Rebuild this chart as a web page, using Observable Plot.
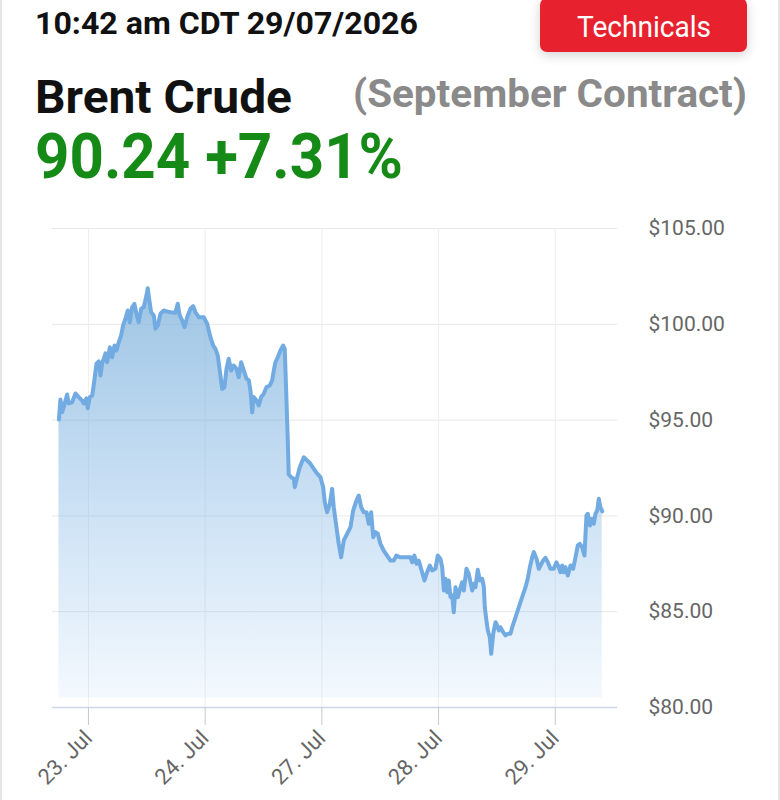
<!DOCTYPE html>
<html>
<head>
<meta charset="utf-8">
<script src="https://cdn.jsdelivr.net/npm/d3@7"></script>
<script src="https://cdn.jsdelivr.net/npm/@observablehq/plot@0.6"></script>
<style>
  html, body { margin: 0; padding: 0; background: #fff; }
  body { width: 780px; height: 800px; position: relative; overflow: hidden; font-family: Roboto, "Noto Sans", sans-serif; }
  .frame { position: absolute; left: 0; top: 0; width: 776px; height: 800px; border-left: 2px solid #e6e6e6; border-right: 2px solid #e6e6e6; pointer-events: none; }
  .t { position: absolute; white-space: nowrap; line-height: 1; transform-origin: 0 0; }
  #ts { left: 35px; top: 7px; font-size: 32px; font-weight: 700; color: #111; }
  #btn { position: absolute; left: 540px; top: -2px; width: 207px; height: 54px; background: #e8212e; border-radius: 7px; box-shadow: 0 3px 12px rgba(0,0,0,0.18); }
  #btnText { left: 577px; top: 12px; font-size: 30px; font-weight: 400; color: #fff; }
  #name { left: 35px; top: 74px; font-size: 46px; font-weight: 700; color: #111; }
  #contract { left: 353px; top: 75px; font-size: 38px; font-weight: 700; color: #8a8a8a; }
  #price { left: 35px; top: 125px; font-size: 63px; font-weight: 700; color: #168a16; }
  #chart { position: absolute; left: 0; top: 210px; }
</style>
</head>
<body>
<div id="btn"></div>
<div class="t" id="ts" data-w="383">10:42 am CDT 29/07/2026</div>
<div class="t" id="btnText" data-w="134">Technicals</div>
<div class="t" id="name" data-w="257">Brent Crude</div>
<div class="t" id="contract" data-w="394">(September Contract)</div>
<div class="t" id="price" data-w="368">90.24 +7.31%</div>
<div id="chart"></div>
<div class="frame"></div>
<script>
// Trading-time position (in trading days, 0 = 23 Jul) and Brent price
const times = [
  -0.253,-0.240,-0.225,-0.212,-0.183,-0.169,-0.140,-0.111,-0.083,-0.054,
  -0.040,-0.017,-0.006,0.011,0.032,0.045,0.069,0.088,0.103,0.117,
  0.146,0.160,0.183,0.203,0.223,0.240,0.260,0.280,0.297,0.317,
  0.337,0.354,0.374,0.394,0.411,0.431,0.452,0.474,0.497,0.508,
  0.520,0.537,0.560,0.574,0.594,0.617,0.645,0.674,0.703,0.745,
  0.765,0.782,0.803,0.823,0.846,0.874,0.897,0.917,0.945,0.960,
  0.988,1.017,1.045,1.069,1.088,1.108,1.125,1.146,1.165,1.183,
  1.202,1.223,1.245,1.268,1.288,1.308,1.331,1.354,1.374,1.388,
  1.403,1.416,1.440,1.459,1.480,1.502,1.525,1.554,1.574,1.588,
  1.602,1.622,1.645,1.668,1.682,1.694,1.708,1.716,1.737,1.759,
  1.768,1.788,1.811,1.845,1.874,1.902,1.931,1.960,1.988,2.011,
  2.025,2.045,2.068,2.088,2.102,2.125,2.145,2.165,2.188,2.217,
  2.245,2.268,2.296,2.316,2.337,2.359,2.382,2.402,2.422,2.440,
  2.459,2.479,2.502,2.530,2.559,2.588,2.616,2.639,2.674,2.731,
  2.759,2.774,2.793,2.811,2.830,2.859,2.879,2.902,2.925,2.945,
  2.973,2.993,3.016,3.031,3.045,3.059,3.074,3.087,3.102,3.117,
  3.130,3.145,3.165,3.188,3.202,3.216,3.239,3.259,3.273,3.288,
  3.302,3.316,3.336,3.353,3.374,3.388,3.396,3.410,3.422,3.439,
  3.451,3.468,3.488,3.502,3.516,3.530,3.553,3.573,3.593,3.616,
  3.631,3.659,3.687,3.716,3.745,3.764,3.782,3.802,3.816,3.839,
  3.859,3.873,3.896,3.916,3.936,3.959,3.987,4.010,4.030,4.045,
  4.059,4.073,4.087,4.107,4.130,4.153,4.173,4.193,4.210,4.230,
  4.250,4.267,4.279,4.296,4.316,4.330,4.344,4.359,4.373,4.387,
  4.402
];
const prices = [
  95.03,96.08,95.41,95.67,96.34,95.87,95.93,96.39,96.20,96.02,
  95.87,96.13,95.62,96.20,96.28,96.81,97.95,98.06,97.33,97.95,
  98.48,98.02,98.80,98.28,98.89,98.63,99.07,99.42,99.94,100.29,
  100.72,100.11,100.89,101.07,100.55,100.11,100.81,100.89,101.50,101.88,
  101.33,100.63,100.46,99.77,99.94,100.55,100.72,100.67,100.63,100.60,
  101.07,100.46,100.20,99.85,100.37,100.81,100.95,100.63,100.37,100.37,
  100.37,100.03,99.33,98.89,98.72,98.37,97.59,96.63,96.72,97.68,
  98.20,97.59,97.85,97.68,97.24,98.02,97.59,97.16,97.07,96.54,
  95.41,96.20,96.02,95.76,96.20,96.37,96.72,96.81,97.07,97.59,
  98.02,98.28,98.63,98.89,98.72,96.54,93.94,92.16,92.02,91.94,
  91.50,92.02,92.54,93.06,92.89,92.72,92.46,92.20,92.02,91.50,
  90.72,90.19,90.63,91.41,90.45,89.41,88.54,87.84,88.72,89.07,
  89.41,90.28,90.80,91.06,90.45,90.19,90.19,89.59,90.19,88.89,
  89.15,89.07,88.54,88.19,87.93,87.67,87.67,87.93,87.84,87.84,
  87.84,87.58,87.93,87.50,87.67,87.06,86.63,87.06,87.41,87.15,
  87.24,87.93,87.76,87.32,86.11,86.72,86.02,86.63,85.76,85.85,
  84.97,86.28,85.76,86.28,86.54,86.11,87.24,86.98,86.54,86.11,
  86.46,86.28,87.19,86.63,86.72,86.28,85.23,84.54,84.02,83.67,
  82.80,83.85,84.45,84.28,84.02,84.19,83.93,83.76,83.85,83.85,
  84.19,84.71,85.23,85.76,86.28,86.72,87.32,87.84,88.11,87.76,
  87.24,87.41,87.67,87.81,87.58,87.24,87.24,87.58,87.32,87.06,
  87.41,87.06,87.32,86.89,87.41,87.24,87.84,88.46,88.54,88.37,
  87.93,90.02,90.11,89.50,89.85,89.59,90.11,90.28,90.89,90.45,
  90.24
];
const tickPositions = [0, 1, 2, 3, 4];
const tickLabels = ["23. Jul", "24. Jul", "27. Jul", "28. Jul", "29. Jul"];
const priceTicks = [80, 85, 90, 95, 100, 105];

// fit header text widths
document.querySelectorAll(".t[data-w]").forEach(el => {
  const w = el.getBoundingClientRect().width;
  const target = +el.dataset.w;
  el.style.transform = `scaleX(${target / w})`;
});

const data = times.map((t, i) => ({t, p: prices[i]}));

const gradient = () => {
  const ns = "http://www.w3.org/2000/svg";
  const defs = document.createElementNS(ns, "defs");
  defs.innerHTML = `<linearGradient id="areaGrad" x1="0" y1="0" x2="0" y2="1">
      <stop offset="0" stop-color="#78aed9" stop-opacity="0.72"></stop>
      <stop offset="1" stop-color="#7cb5ec" stop-opacity="0.09"></stop>
    </linearGradient>`;
  return defs;
};

const chart = Plot.plot({
  width: 780,
  height: 590,
  marginLeft: 52,
  marginRight: 163,
  marginTop: 18,
  marginBottom: 93,
  style: {fontFamily: "Roboto, sans-serif", background: "transparent", overflow: "visible"},
  x: {domain: [-0.308, 4.533]},
  y: {domain: [80, 105]},
  marks: [
    gradient,
    Plot.gridY(priceTicks, {stroke: "#e8e8e8", strokeOpacity: 1, strokeWidth: 1}),
    Plot.gridX(tickPositions, {stroke: "#eeeeee", strokeOpacity: 1, strokeWidth: 1}),
    Plot.areaY(data, {x: "t", y1: 80.5, y2: "p", fill: "url(#areaGrad)"}),
    Plot.line(data, {x: "t", y: "p", stroke: "#72abe2", strokeWidth: 4, strokeLinejoin: "round", strokeLinecap: "round"}),
    Plot.ruleY([80], {stroke: "#ccd6eb", strokeWidth: 1.5}),
    Plot.axisY(priceTicks, {anchor: "right", tickSize: 0, tickPadding: 31, tickFormat: d => "$" + d.toFixed(2), fontSize: 21, fill: "#666", label: null}),
    Plot.axisX(tickPositions, {anchor: "bottom", tickSize: 18, tickPadding: 9, tickRotate: -45, tickFormat: (d, i) => tickLabels[tickPositions.indexOf(d)], fontSize: 22, fill: "#666", stroke: "#c8c8c8", label: null})
  ]
});
document.getElementById("chart").appendChild(chart);
</script>
</body>
</html>
